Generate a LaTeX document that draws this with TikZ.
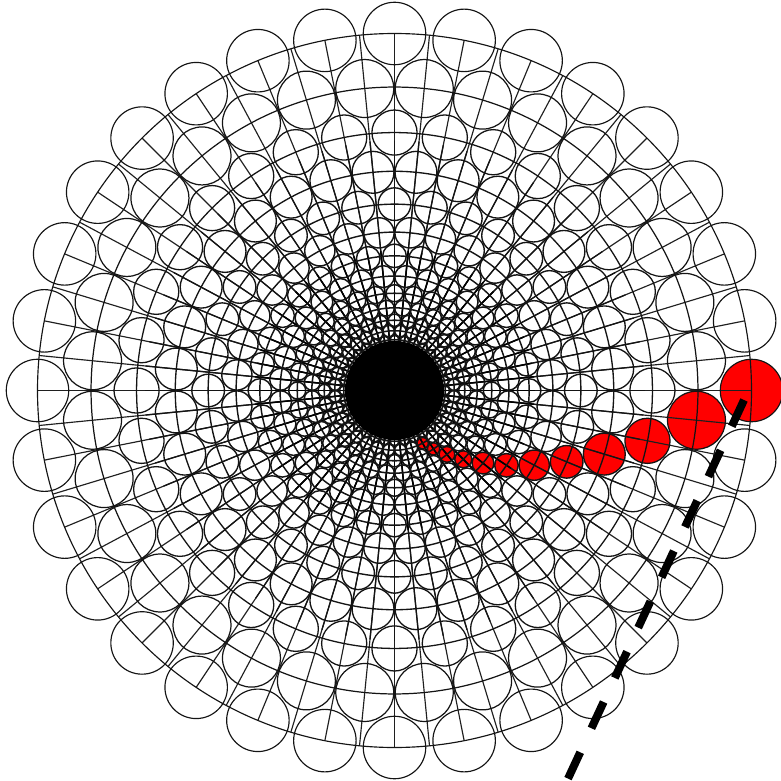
\documentclass[tikz,border=0pt]{standalone}
\tikzset{
  gridline/.style={line width=1.15pt,draw=black!88},
  midline/.style={line width=1.3pt,draw=black!92},
  innerline/.style={line width=1.5pt,draw=black},
  ring/.style={draw=black!92},
  hub/.style={fill=black},
  dashline/.style={line width=8pt,draw=black,dash pattern=on 29pt off 26.5pt},
}
\begin{document}
\begin{tikzpicture}[x=1pt,y=-1pt]
\useasboundingbox (0,0) rectangle (780,781);
\coordinate (C) at (394.5,390.5);
% red spiral
\foreach \i in {0,...,11}{
  \pgfmathsetmacro{\R}{357*0.85^\i}
  \pgfmathsetmacro{\rr}{\R*(isodd(\i)?0.0955:0.0875)}
  \pgfmathsetmacro{\a}{-\i*5.625}
  \fill[red] (C) ++(\a:\R pt) circle[radius=\rr pt];
}
% spokes
\foreach \k in {0,...,63}{
  \pgfmathsetmacro{\a}{\k*5.625}
  \draw[gridline] (C) -- ++(\a:357pt);
  \draw[midline] (C) -- ++(\a:250pt);
  \draw[innerline] (C) -- ++(\a:140pt);
}
% rings and circles
\foreach \i in {0,...,15}{
  \pgfmathsetmacro{\R}{357*0.85^\i}
  \pgfmathsetmacro{\rr}{\R*(isodd(\i)?0.0955:0.0875)}
  \pgfmathsetmacro{\off}{isodd(\i)?5.625:0}
  \pgfmathsetmacro{\lw}{1.15+0.5*(1-\R/357)}
  \draw[ring,line width=\lw pt] (C) circle[radius=\R pt];
  \foreach \k in {0,...,31}{
    \pgfmathsetmacro{\a}{\k*11.25+\off}
    \draw[ring,line width=\lw pt] (C) ++(\a:\R pt) circle[radius=\rr pt];
  }
}
\fill[hub] (C) circle[radius=49.5pt];
\coordinate (D1) at (744,400);
\coordinate (D2) at (565.5,784);
\draw[dashline] (D1) -- (D2);
\end{tikzpicture}
\end{document}
